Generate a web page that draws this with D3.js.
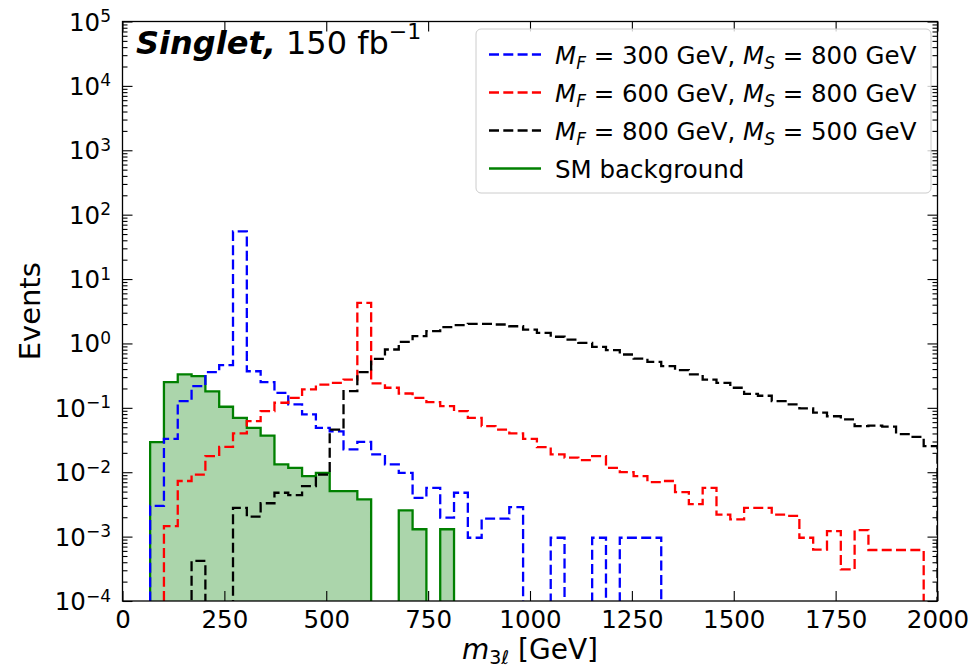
<!DOCTYPE html>
<html><head><meta charset="utf-8">
<script src="https://cdn.jsdelivr.net/npm/d3@7"></script>
<style>body{margin:0;background:#fff} svg{display:block} text{font-family:"DejaVu Sans",sans-serif;fill:#000}</style>
</head><body><svg id="c" width="974" height="671"></svg>
<script>
// ---- data (59 bins of 2000/59 GeV from 0 to 2000) ----
const xDomain = [0, 2000];
const nBins = 59;
const blue = [0,0,0.0030,0.033,0.127,0.217,0.358,0.46,55,0.37,
  0.25,0.171,0.113,0.079,0.049,0.043,0.0226,0.0297,0.0189,0.0132,
  0.0098,0.0040,0.0057,0.00197,0.0048,0.00096,0.0019,0.0019,0.00288,0,
  0,0.00096,0,0,0.00096,0,0.00096,0.00096,0.00096,0,
  0,0,0,0,0,0,0,0,0,0, 0,0,0,0,0,0,0,0,0];
const red = [0,0,0,0.00146,0.0073,0.0092,0.0178,0.0248,0.040,0.062,
  0.089,0.120,0.143,0.193,0.230,0.245,0.275,4.27,0.239,0.205,
  0.167,0.143,0.123,0.106,0.089,0.070,0.052,0.046,0.040,0.033,
  0.0245,0.0189,0.0168,0.0154,0.0178,0.0117,0.0100,0.0087,0.0070,0.0073,
  0.0049,0.0032,0.0057,0.0022,0.00185,0.0028,0.0028,0.0022,0.0021,0.00096,
  0.00063,0.00122,0.00031,0.00126,0.00062,0.00062,0.00062,0.00062,0];
const black = [0,0,0,0,0,0.00042,0,0,0.0028,0.00204,
  0.0033,0.0048,0.0044,0.0061,0.0092,0.046,0.182,0.358,0.577,0.805,
  1.06,1.30,1.55,1.79,1.92,2.01,2.01,1.97,1.85,1.64,
  1.46,1.27,1.15,1.02,0.885,0.786,0.673,0.583,0.518,0.444,
  0.385,0.330,0.275,0.245,0.205,0.165,0.154,0.127,0.113,0.098,
  0.084,0.074,0.066,0.052,0.053,0.051,0.039,0.0355,0.0255];
const green = [0,0,0.0294,0.25,0.33,0.31,0.18,0.104,0.070,0.049,
  0.037,0.0132,0.0117,0.0087,0.0098,0.0051,0.0051,0.00378,0,0,
  0.00255,0.0013,0,0.0013,0,0,0,0,0,0,
  0,0,0,0,0,0,0,0,0,0, 0,0,0,0,0,0,0,0,0,0, 0,0,0,0,0,0,0,0,0];
const xTicks = [0,250,500,750,1000,1250,1500,1750,2000];
const yTickExps = [-4,-3,-2,-1,0,1,2,3,4,5];
const mF = [300, 600, 800];
const mS = [800, 800, 500];
const bgLabel = "SM background";

// ---- layout ----
const L = 122.5, R = 937.5, T = 21.5, B = 601;
const svg = d3.select("#c");
const x = d3.scaleLinear().domain(xDomain).range([L, R]);
const y = d3.scaleLog().domain([1e-4, 1e5]).range([B, T]);
const edges = d3.range(nBins + 1).map(i => xDomain[0] + i * (xDomain[1] - xDomain[0]) / nBins);

svg.append("defs").append("clipPath").attr("id", "pc")
  .append("rect").attr("x", L).attr("y", T).attr("width", R - L).attr("height", B - T);

const low = B + 30;
function stepPoints(vals) {
  const yv = v => v > 0 ? y(v) : low;
  const pts = [[x(edges[0]), low]];
  vals.forEach((v, i) => { pts.push([x(edges[i]), yv(v)]); pts.push([x(edges[i + 1]), yv(v)]); });
  pts.push([x(edges[nBins]), low]);
  return pts;
}
const line = d3.line();
const plot = svg.append("g").attr("clip-path", "url(#pc)");

// background: filled + solid edge
plot.append("path").attr("d", line(stepPoints(green)) + "Z")
  .attr("fill", "#008000").attr("fill-opacity", 0.33).attr("stroke", "none");
plot.append("path").attr("d", line(stepPoints(green)))
  .attr("fill", "none").attr("stroke", "#008000").attr("stroke-width", 2.3);

const sig = [[blue, "#0000ff"], [red, "#ff0000"], [black, "#000000"]];
sig.forEach(([vals, col]) => {
  plot.append("path").attr("d", line(stepPoints(vals)))
    .attr("fill", "none").attr("stroke", col).attr("stroke-width", 2.3)
    .attr("stroke-dasharray", "10,4.3").attr("stroke-linejoin", "miter");
});

// ---- axes ----
const minors = [];
for (let e = -4; e < 5; e++) for (let k = 2; k <= 9; k++) minors.push(k * Math.pow(10, e));
const majors = yTickExps.map(e => Math.pow(10, e));

function styleAxis(g) { g.select(".domain").remove(); g.selectAll("line").attr("stroke", "#000").attr("stroke-width", 1.1); }

svg.append("g").attr("transform", `translate(0,${B})`)
  .call(d3.axisBottom(x).tickValues(xTicks).tickSizeInner(-10).tickSizeOuter(0).tickPadding(10).tickFormat(d3.format("d")))
  .call(styleAxis)
  .call(g => g.selectAll("text").attr("font-size", 24.5).attr("font-family", "DejaVu Sans").attr("fill", "#000"));
svg.append("g").attr("transform", `translate(0,${T})`)
  .call(d3.axisTop(x).tickValues(xTicks).tickSizeInner(-10).tickSizeOuter(0).tickFormat(""))
  .call(styleAxis);
[[L, d3.axisLeft], [R, d3.axisRight]].forEach(([px, ax]) => {
  svg.append("g").attr("transform", `translate(${px},0)`)
    .call(ax(y).tickValues(majors).tickSizeInner(-10).tickSizeOuter(0).tickFormat(""))
    .call(styleAxis);
  svg.append("g").attr("transform", `translate(${px},0)`)
    .call(ax(y).tickValues(minors).tickSizeInner(-5).tickSizeOuter(0).tickFormat(""))
    .call(styleAxis);
});

// y tick labels 10^k
yTickExps.forEach(e => {
  const t = svg.append("text").attr("x", 111).attr("y", y(Math.pow(10, e)) + 9)
    .attr("text-anchor", "end").attr("font-size", 24.5);
  t.append("tspan").text("10");
  t.append("tspan").attr("font-size", 17).attr("dy", -8.5).text(e < 0 ? "\u2212" + (-e) : String(e));
});

// frame
svg.append("rect").attr("x", L).attr("y", T).attr("width", R - L).attr("height", B - T)
  .attr("fill", "none").attr("stroke", "#000").attr("stroke-width", 1.3);

// axis labels
const xl = svg.append("text").attr("x", (L + R) / 2).attr("y", 659).attr("text-anchor", "middle").attr("font-size", 28);
xl.append("tspan").attr("font-style", "italic").text("m");
xl.append("tspan").attr("font-size", 19).attr("dy", 5).text("3");
xl.append("tspan").attr("font-size", 19).attr("font-style", "italic").text("\u2113");
xl.append("tspan").attr("dy", -5).text(" [GeV]");

svg.append("text").attr("transform", `translate(40,${(T + B) / 2}) rotate(-90)`)
  .attr("text-anchor", "middle").attr("font-size", 29).text("Events");

// title
const tt = svg.append("text").attr("x", 136).attr("y", 53.5).attr("font-size", 32);
tt.append("tspan").attr("font-weight", "bold").attr("font-style", "italic").text("Singlet,");
tt.append("tspan").text(" 150 fb");
tt.append("tspan").attr("font-size", 22).attr("dy", -15).text("\u22121");

// legend
svg.append("rect").attr("x", 476).attr("y", 29).attr("width", 455).attr("height", 164).attr("rx", 5)
  .attr("fill", "#fff").attr("fill-opacity", 0.8).attr("stroke", "#cccccc").attr("stroke-width", 1);
const rows = [54.5, 92.5, 130.5, 168.5];
const entries = [
  { col: "#0000ff", dash: "10,4.3" },
  { col: "#ff0000", dash: "10,4.3" },
  { col: "#000000", dash: "10,4.3" },
  { col: "#008000", dash: null }
];
entries.forEach((en, r) => {
  const yy = rows[r];
  svg.append("line").attr("x1", 489).attr("x2", 541).attr("y1", yy).attr("y2", yy)
    .attr("stroke", en.col).attr("stroke-width", 2.3).attr("stroke-dasharray", en.dash);
  const t = svg.append("text").attr("x", 555).attr("y", yy + 9).attr("font-size", 24.5);
  if (r < 3) {
    t.append("tspan").attr("font-style", "italic").text("M");
    t.append("tspan").attr("font-style", "italic").attr("font-size", 17).attr("dy", 5).text("F");
    t.append("tspan").attr("dy", -5).text(` = ${mF[r]} GeV, `);
    t.append("tspan").attr("font-style", "italic").text("M");
    t.append("tspan").attr("font-style", "italic").attr("font-size", 17).attr("dy", 5).text("S");
    t.append("tspan").attr("dy", -5).text(` = ${mS[r]} GeV`);
  } else {
    t.text(bgLabel);
  }
});
</script>
</body></html>
